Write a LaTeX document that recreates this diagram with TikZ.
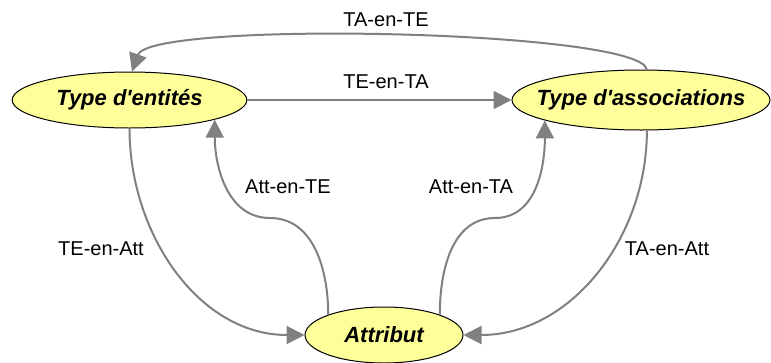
\documentclass[tikz,border=0pt]{standalone}
\usepackage{fontspec}
\setmainfont{Liberation Sans}
\usetikzlibrary{shapes.geometric,arrows.meta}
\definecolor{jaune}{HTML}{FFFF99}
\definecolor{gristrait}{HTML}{808080}
\tikzset{
    concept/.style={ellipse, draw=black, line width=0.75pt, fill=jaune, inner sep=0pt,
        font=\fontsize{16.5}{19}\selectfont\bfseries\itshape},
    lien/.style={color=gristrait, line width=1.5pt,
        -{Triangle[length=13.5pt,width=13.5pt]}},
    etiquette/.style={font=\fontsize{15}{18}\selectfont, inner sep=0pt}
}
\begin{document}
\begin{tikzpicture}[x=0.75pt,y=0.75pt]
        \useasboundingbox (0,0) rectangle (771,362);

        %concepts
        \node[concept, minimum width=176pt, minimum height=42pt] (te) at (129.5,262) {\makebox[0pt]{Type d\textquotesingle entités}};
        \node[concept, minimum width=193.5pt, minimum height=45pt] (ta) at (641,262) {\makebox[0pt]{Type d\textquotesingle associations}};
        \node[concept, minimum width=118.5pt, minimum height=42pt] (attr) at (384,27) {\makebox[0pt]{Attribut}};

        %bends of the S-curves
        \coordinate (m1) at (270,144);
        \coordinate (m2) at (495,144);

        %lines
        \path
            (te.east) edge[lien] (ta.west)
            (te.south) edge[lien, out=-90, in=180] (attr.west)
            (ta.-79) edge[lien, out=-90, in=0] (attr.east);
        \draw[lien] (ta.79) .. controls (640,332) and (150,342) .. (te.85);
        \draw[lien] (attr.160) to[out=90, in=0] (m1) to[out=180, in=-90] (te.-13);
        \draw[lien] (attr.20) to[out=90, in=180] (m2) to[out=0, in=-90] (ta.-168);

        %labels
        \node[etiquette] (lTAenTE) at (386,342) {TA-en-TE};
        \node[etiquette] (lTEenTA) at (386,280) {TE-en-TA};
        \node[etiquette] (lAttenTE) at (288,175) {Att-en-TE};
        \node[etiquette] (lAttenTA) at (471,175) {Att-en-TA};
        \node[etiquette] (lTEenAtt) at (101,113) {TE-en-Att};
        \node[etiquette] (lTAenAtt) at (667,113) {TA-en-Att};

\end{tikzpicture}
\end{document}
